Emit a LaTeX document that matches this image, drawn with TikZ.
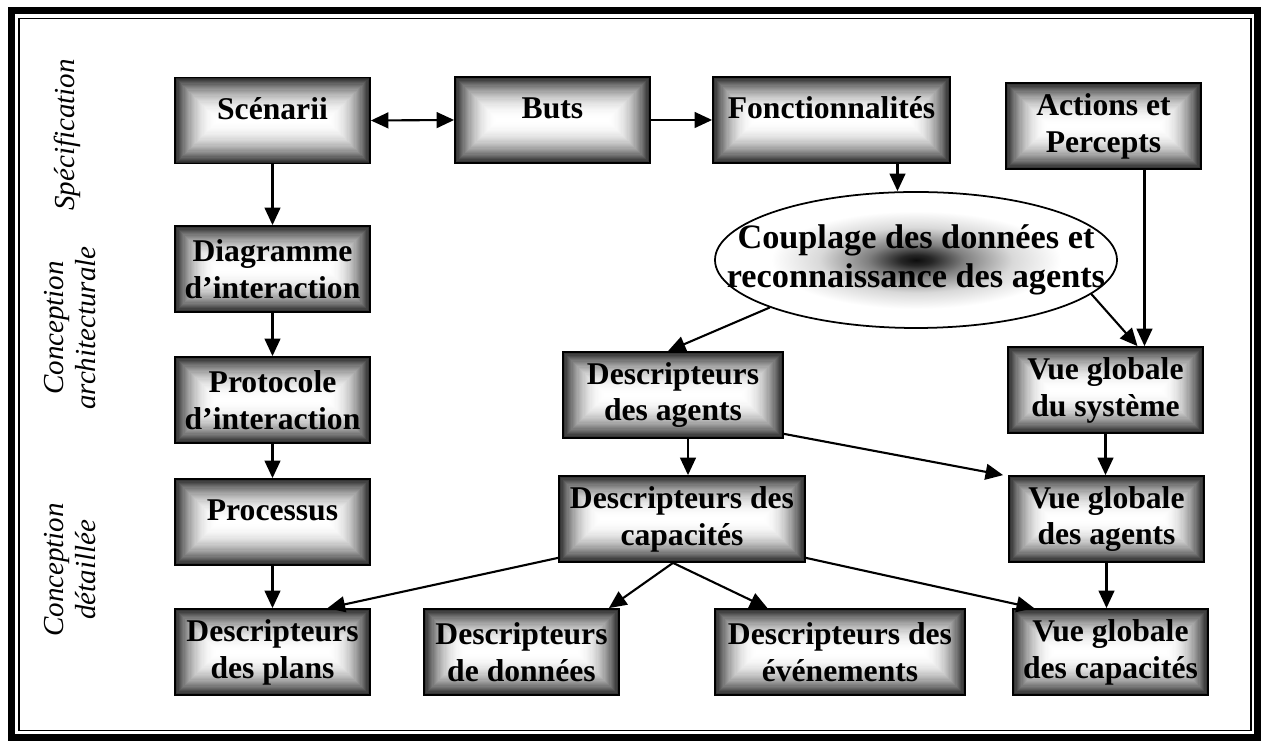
\documentclass[tikz,border=0pt]{standalone}
\usepackage{fontspec}
\setmainfont{Liberation Serif}
\usetikzlibrary{arrows.meta,shapes.geometric}

\pgfdeclareradialshading{ellglow}{\pgfpoint{0bp}{0bp}}{%
  color(0bp)=(black!95); color(2bp)=(black!85); color(6bp)=(black!50);
  color(12bp)=(black!15); color(18bp)=(white); color(50bp)=(white)}

\begin{document}
\begin{tikzpicture}[
    glow/.style={path picture={
      \foreach \k in {0,...,35} {
        \pgfmathsetmacro\g{84*(1-\k/36)^2.2}
        \pgfmathsetmacro\d{\k*0.86/36}
        \fill [black!\g] ([shift={(\d,\d)}]path picture bounding box.south west)
          rectangle ([shift={(-\d,-\d)}]path picture bounding box.north east);
      }}},
    box/.style={draw=black, line width=1pt, glow,
      minimum width=3.9cm, minimum height=1.72cm, inner sep=0pt,
      align=center, font=\fontsize{18}{21}\selectfont\bfseries},
    oneline/.style={text height=0.4cm, text depth=0.44cm},
    phase/.style={rotate=90, align=center, font=\fontsize{16.5}{18}\selectfont\itshape},
    arr/.style={-{Triangle[length=10pt,width=9pt]}, line width=1.2pt}]
  \useasboundingbox (0, 0) rectangle (25.3, 14.84);

  % double frame
  \draw [line width=0.14cm] (0.23, 0.09) rectangle (25.15, 14.63);
  \draw [line width=0.6pt] (0.38, 0.23) rectangle (25.02, 14.47);

  % phases
  \node [phase] (spec) at (1.34, 12.14) {Spécification};
  \node [phase] (archi) at (1.40, 8.28) {Conception\\architecturale};
  \node [phase] (detail) at (1.40, 3.44) {Conception\\détaillée};

  % first column
  \node [box, oneline] (scen) at (5.45, 12.43) {Scénarii};
  \node [box] (diag) at (5.45, 9.46) {Diagramme\\d’interaction};
  \node [box] (proto) at (5.45, 6.84) {Protocole\\d’interaction};
  \node [box, oneline] (proc) at (5.45, 4.40) {Processus};
  \node [box] (plans) at (5.45, 1.80) {Descripteurs\\des plans};

  % top row
  \node [box, oneline] (buts) at (11.05, 12.44) {Buts};
  \node [box, oneline, minimum width=4.74cm] (fonct) at (16.63, 12.44) {Fonctionnalités};
  \node [box] (actions) at (22.07, 12.32) {Actions et\\Percepts};

  % ellipse drawn empty, its text set on top so the size stays fixed
  \node [ellipse, draw=black, line width=1pt, shading=ellglow,
    minimum width=8.04cm, minimum height=2.72cm, inner sep=0pt] (coupl) at (18.32, 9.64) {};
  \node [align=center, font=\fontsize{19.5}{22}\selectfont\bfseries] (coupltext) at (coupl.center)
    {Couplage des données et\\reconnaissance des agents};

  % descriptors
  \node [box, minimum width=4.4cm] (agents) at (13.46, 6.94) {Descripteurs\\des agents};
  \node [box, minimum width=4.92cm] (capac) at (13.64, 4.46) {Descripteurs des\\capacités};
  \node [box] (donnees) at (10.43, 1.80) {Descripteurs\\de données};
  \node [box, minimum width=5cm] (even) at (16.80, 1.80) {Descripteurs des\\événements};

  % overviews
  \node [box] (systeme) at (22.11, 7.04) {Vue globale\\du système};
  \node [box] (vueag) at (22.13, 4.46) {Vue globale\\des agents};
  \node [box] (vuecap) at (22.21, 1.80) {Vue globale\\des capacités};

  \draw [{Triangle[length=10pt,width=9pt]}-{Triangle[length=10pt,width=9pt]}, line width=1.2pt]
    (scen.east) -- (buts.west);
  \draw [arr] (buts.east) -- (fonct.west);
  \draw [arr] ([xshift=1.32cm]fonct.south) -- ([xshift=1.32cm]fonct.south |- coupl.north);

  \foreach \a/\b in {scen/diag, diag/proto, proto/proc, proc/plans, systeme/vueag, vueag/vuecap}
    \draw [arr] (\a.south) -- (\a.south |- \b.north);

  \draw [arr] (coupl.198) -- ([xshift=-0.1cm]agents.north);
  \draw [arr] (coupl.349) -- ([xshift=0.64cm]systeme.north);
  \draw [arr] ([xshift=0.82cm]actions.south) -- ([xshift=0.82cm]actions.south |- systeme.north);
  \draw [arr] ([xshift=0.3cm]agents.south) -- ([xshift=0.3cm]agents.south |- capac.north);
  \draw [arr] ([yshift=0.1cm]agents.south east) -- ([xshift=-0.1cm]vueag.north west);

  \draw [arr] ([yshift=0.1cm]capac.south west) -- ([xshift=1.1cm]plans.north);
  \draw [arr] ([xshift=-0.18cm]capac.south) -- ([xshift=-0.22cm]donnees.north east);
  \draw [arr] ([xshift=-0.18cm]capac.south) -- ([xshift=-1.45cm]even.north);
  \draw [arr] ([yshift=0.1cm]capac.south east) -- ([xshift=0.44cm]vuecap.north west);
\end{tikzpicture}
\end{document}
